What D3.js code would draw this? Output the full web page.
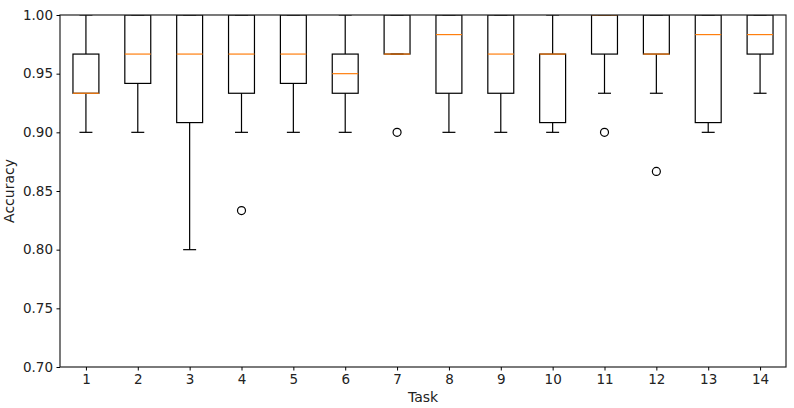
<!DOCTYPE html>
<html>
<head>
<meta charset="utf-8">
<script src="https://cdn.jsdelivr.net/npm/d3@7"></script>
<style>
  body { margin: 0; background: #fff; }
  text { font-family: "DejaVu Sans", sans-serif; fill: #222; }
</style>
</head>
<body>
<div id="container"></div>
<script>
/* DATA */
var tasks = [1, 2, 3, 4, 5, 6, 7, 8, 9, 10, 11, 12, 13, 14];
var whiskerLow  = [0.9, 0.9, 0.8, 0.9, 0.9, 0.9, 0.9667, 0.9, 0.9, 0.9, 0.9333, 0.9333, 0.9, 0.9333];
var q1          = [0.9333, 0.9417, 0.9083, 0.9333, 0.9417, 0.9333, 0.9667, 0.9333, 0.9333, 0.9083, 0.9667, 0.9667, 0.9083, 0.9667];
var medians     = [0.9333, 0.9667, 0.9667, 0.9667, 0.9667, 0.95, 0.9667, 0.9833, 0.9667, 0.9667, 1.0, 0.9667, 0.9833, 0.9833];
var q3          = [0.9667, 1.0, 1.0, 1.0, 1.0, 0.9667, 1.0, 1.0, 1.0, 0.9667, 1.0, 1.0, 1.0, 1.0];
var whiskerHigh = [1.0, 1.0, 1.0, 1.0, 1.0, 1.0, 1.0, 1.0, 1.0, 1.0, 1.0, 1.0, 1.0, 1.0];
var outlierTasks  = [4, 7, 11, 12];
var outlierValues = [0.8333, 0.9, 0.9, 0.8667];
var yTicks = [0.70, 0.75, 0.80, 0.85, 0.90, 0.95, 1.00];

var W = 794, H = 408;
var margin = { top: 15, right: 8, bottom: 41, left: 60 };

var svg = d3.select("#container")
  .append("svg")
  .attr("width", W)
  .attr("height", H);

var x = d3.scaleLinear()
  .domain([0.5, 14.5])
  .range([margin.left, W - margin.right]);

var y = d3.scaleLinear()
  .domain([0.70, 1.00])
  .range([H - margin.bottom, margin.top]);

var unit = x(1) - x(0);
var boxW = 0.5 * unit, capW = 0.25 * unit;

var data = tasks.map(function(t, i) {
  return { task: t, lo: whiskerLow[i], q1: q1[i], med: medians[i], q3: q3[i], hi: whiskerHigh[i] };
});

// clip marks to the plot area like matplotlib does
svg.append("clipPath").attr("id", "plotclip")
  .append("rect")
  .attr("x", margin.left).attr("y", margin.top)
  .attr("width", W - margin.left - margin.right)
  .attr("height", H - margin.top - margin.bottom);

var g = svg.append("g").attr("clip-path", "url(#plotclip)");

// whiskers
g.selectAll(".wlo").data(data).enter().append("line")
  .attr("x1", d => x(d.task)).attr("x2", d => x(d.task))
  .attr("y1", d => y(d.q1)).attr("y2", d => y(d.lo))
  .attr("stroke", "#000").attr("stroke-width", 1.2);
g.selectAll(".whi").data(data).enter().append("line")
  .attr("x1", d => x(d.task)).attr("x2", d => x(d.task))
  .attr("y1", d => y(d.q3)).attr("y2", d => y(d.hi))
  .attr("stroke", "#000").attr("stroke-width", 1.2);

// caps
g.selectAll(".clo").data(data).enter().append("line")
  .attr("x1", d => x(d.task) - capW / 2).attr("x2", d => x(d.task) + capW / 2)
  .attr("y1", d => y(d.lo)).attr("y2", d => y(d.lo))
  .attr("stroke", "#000").attr("stroke-width", 1.2);
g.selectAll(".chi").data(data).enter().append("line")
  .attr("x1", d => x(d.task) - capW / 2).attr("x2", d => x(d.task) + capW / 2)
  .attr("y1", d => y(d.hi)).attr("y2", d => y(d.hi))
  .attr("stroke", "#000").attr("stroke-width", 1.2);

// boxes
g.selectAll(".box").data(data).enter().append("rect")
  .attr("x", d => x(d.task) - boxW / 2)
  .attr("y", d => y(d.q3))
  .attr("width", boxW)
  .attr("height", d => y(d.q1) - y(d.q3))
  .attr("fill", "none")
  .attr("stroke", "#000").attr("stroke-width", 1.2);

// medians
g.selectAll(".med").data(data).enter().append("line")
  .attr("x1", d => x(d.task) - boxW / 2).attr("x2", d => x(d.task) + boxW / 2)
  .attr("y1", d => y(d.med)).attr("y2", d => y(d.med))
  .attr("stroke", "#ff7f0e").attr("stroke-width", 1.2);

// outliers
g.selectAll(".out").data(outlierTasks).enter().append("circle")
  .attr("cx", d => x(d))
  .attr("cy", (d, i) => y(outlierValues[i]))
  .attr("r", 4)
  .attr("fill", "none")
  .attr("stroke", "#000").attr("stroke-width", 1.2);

// frame
svg.append("rect")
  .attr("x", margin.left).attr("y", margin.top)
  .attr("width", W - margin.left - margin.right)
  .attr("height", H - margin.top - margin.bottom)
  .attr("fill", "none").attr("stroke", "#222").attr("stroke-width", 1.2);

// axes
var xAxis = svg.append("g")
  .attr("transform", "translate(0," + (H - margin.bottom) + ")")
  .call(d3.axisBottom(x).tickValues(tasks).tickSize(3.5).tickPadding(3.5).tickFormat(d3.format("d")));
var yAxis = svg.append("g")
  .attr("transform", "translate(" + margin.left + ",0)")
  .call(d3.axisLeft(y).tickValues(yTicks).tickSize(3.5).tickPadding(3.5).tickFormat(d3.format(".2f")));

[xAxis, yAxis].forEach(function(a) {
  a.select(".domain").remove();
  a.selectAll("text").style("font-size", "13.5px").style("font-family", "DejaVu Sans, sans-serif");
});

// labels
svg.append("text")
  .attr("x", (margin.left + W - margin.right) / 2)
  .attr("y", 402)
  .attr("text-anchor", "middle")
  .style("font-size", "14px")
  .text("Task");

svg.append("text")
  .attr("transform", "translate(14," + ((margin.top + H - margin.bottom) / 2) + ") rotate(-90)")
  .attr("text-anchor", "middle")
  .style("font-size", "14px")
  .text("Accuracy");
</script>
</body>
</html>
